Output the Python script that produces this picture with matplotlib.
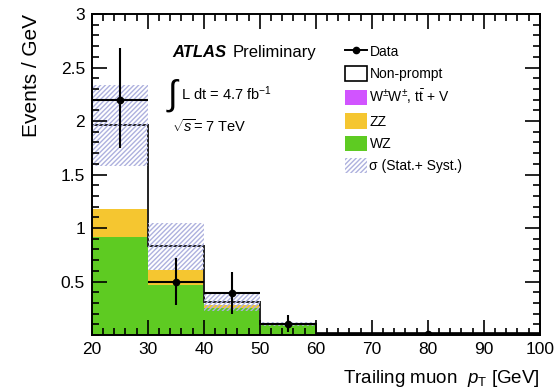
import numpy as np
import matplotlib.pyplot as plt
from matplotlib.patches import Patch
from matplotlib.lines import Line2D
from matplotlib.ticker import MultipleLocator

plt.rcParams['font.family'] = ['Liberation Sans', 'DejaVu Sans']
plt.rcParams['mathtext.fontset'] = 'custom'
plt.rcParams['mathtext.rm'] = 'Liberation Sans'
plt.rcParams['mathtext.it'] = 'Liberation Sans:italic'
plt.rcParams['hatch.linewidth'] = 1.0

# bins in trailing muon pT [GeV]
bin_edges = [20, 30, 40, 50, 60, 100]

# stacked backgrounds, events / GeV
wz = [0.92, 0.47, 0.25, 0.09, 0.012]
zz = [0.26, 0.14, 0.03, 0.004, 0.002]
ww_ttv = [0.0, 0.0, 0.001, 0.001, 0.0]
nonprompt = [0.78, 0.22, 0.029, 0.005, 0.001]
syst_err = [0.38, 0.22, 0.09, 0.02, 0.005]

# data
data_x = [25, 35, 45, 55, 80]
data_y = [2.2, 0.5, 0.39, 0.10, 0.01]
data_up = [0.48, 0.22, 0.20, 0.09, 0.02]
data_dn = [0.45, 0.22, 0.19, 0.07, 0.01]

c_wz = '#5ecb22'
c_zz = '#f5c630'
c_ww = '#d154ff'
c_band = '#aeb1de'

edges = np.array(bin_edges)
widths = np.diff(edges)
left = edges[:-1]

fig = plt.figure(figsize=(5.57, 3.9), dpi=100)
ax = fig.add_axes([0.165, 0.141, 0.804, 0.823])

bottom = np.zeros(len(wz))
for vals, col in [(wz, c_wz), (zz, c_zz), (ww_ttv, c_ww)]:
    ax.bar(left, vals, width=widths, bottom=bottom, align='edge', color=col, linewidth=0)
    bottom += np.array(vals)
ax.bar(left, nonprompt, width=widths, bottom=bottom, align='edge', color='white', linewidth=0)
total = bottom + np.array(nonprompt)

# outline of the total prediction
ax.stairs(total, edges, color='#222222', linewidth=1.4, baseline=None)

# uncertainty band
err = np.array(syst_err)
ax.bar(left, 2 * err, width=widths, bottom=total - err, align='edge',
       facecolor='none', edgecolor=c_band, hatch='///////', linewidth=0)

# data points
ax.errorbar(data_x, data_y, xerr=widths / 2, yerr=[data_dn, data_up], fmt='o',
            color='black', markersize=4.5, elinewidth=1.5, capsize=0)

ax.set_xlim(20, 100)
ax.set_ylim(0, 3)
ax.set_yticks([0.5, 1, 1.5, 2, 2.5, 3])
ax.set_yticklabels(['0.5', '1', '1.5', '2', '2.5', '3'])
ax.xaxis.set_major_locator(MultipleLocator(10))
ax.xaxis.set_minor_locator(MultipleLocator(2))
ax.yaxis.set_minor_locator(MultipleLocator(0.1))
ax.tick_params(which='both', direction='in', top=True, right=True, labelsize=12.5, width=1.2)
ax.tick_params(which='major', length=11, pad=5)
ax.tick_params(which='minor', length=5)
for s in ax.spines.values():
    s.set_linewidth(1.4)

ax.set_ylabel('Events / GeV', loc='top', fontsize=15, labelpad=14)
ax.set_xlabel(r'Trailing muon  $p_{\mathrm{T}}$ [GeV]', loc='right', fontsize=13.5, labelpad=8)

ax.text(0.179, 0.88, 'ATLAS', transform=ax.transAxes, fontsize=12,
        fontweight='bold', fontstyle='italic', va='center')
ax.text(0.315, 0.88, 'Preliminary', transform=ax.transAxes, fontsize=12, va='center')
ax.text(0.166, 0.745, r'$\int$', transform=ax.transAxes, fontsize=25, va='center')
ax.text(0.2, 0.752, r'L dt = 4.7 fb$^{-1}$', transform=ax.transAxes, fontsize=10.5, va='center')
ax.text(0.179, 0.649, r'$\sqrt{s}$= 7 TeV', transform=ax.transAxes, fontsize=10.5, va='center')

handles = [
    Line2D([], [], color='black', marker='o', markersize=4.5, linewidth=1.4),
    Patch(facecolor='white', edgecolor='black', linewidth=1.2),
    Patch(facecolor=c_ww, linewidth=0),
    Patch(facecolor=c_zz, linewidth=0),
    Patch(facecolor=c_wz, linewidth=0),
    Patch(facecolor='none', edgecolor=c_band, hatch='///////', linewidth=0),
]
labels = ['Data', 'Non-prompt', r'W$^{\pm}$W$^{\pm}$, t$\bar{\rm t}$ + V', 'ZZ', 'WZ',
          'σ (Stat.+ Syst.)']
ax.legend(handles, labels, loc='upper left', bbox_to_anchor=(0.55, 0.93), frameon=False,
          fontsize=10, handlelength=1.6, handleheight=1.3, labelspacing=0.5,
          handletextpad=0.15, borderpad=0)

fig.savefig('out.png', dpi=100)
